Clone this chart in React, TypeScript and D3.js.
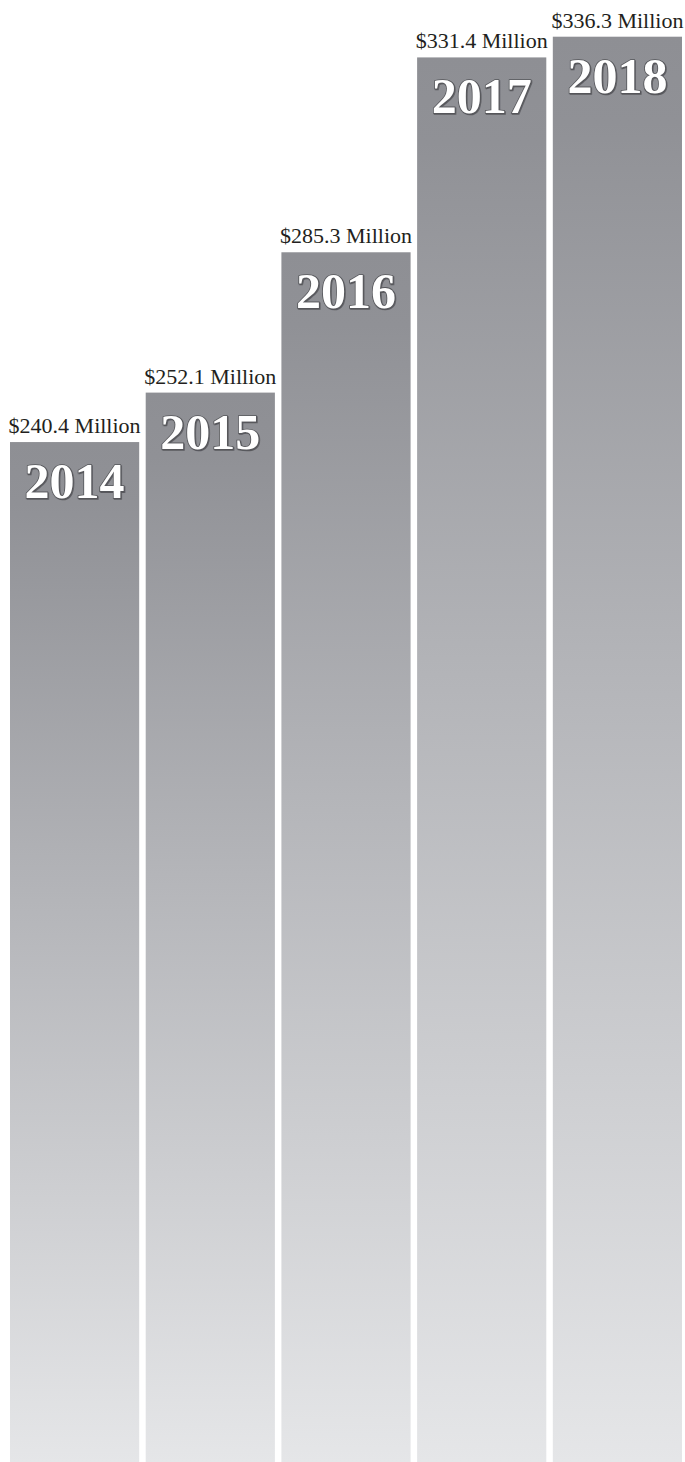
import React from "react";
import * as d3 from "d3";

const years = ["2014", "2015", "2016", "2017", "2018"];
const values = [240.4, 252.1, 285.3, 331.4, 336.3];
const valueLabels = ["$240.4 Million", "$252.1 Million", "$285.3 Million", "$331.4 Million", "$336.3 Million"];

const W = 685;
const H = 1462;

export default function App() {
  const x = d3.scaleBand<string>().domain(years).range([10, 682]).paddingInner(0.048).paddingOuter(0);
  const y = d3.scaleLinear().domain([0, 336.3]).range([1458.2, 36.7]);

  return (
    <svg
      width={W}
      height={H}
      style={{ position: "absolute", left: 0, top: 0, display: "block", background: "#ffffff" }}
    >
      <defs>
        <linearGradient id="barGrad" x1="0" y1="0" x2="0" y2="1">
          <stop offset="0" stopColor="#8e8f94" />
          <stop offset="0.06" stopColor="#909196" />
          <stop offset="0.45" stopColor="#b4b5b9" />
          <stop offset="1" stopColor="#e5e6e8" />
        </linearGradient>
        <filter id="shadow" x="-10%" y="-10%" width="120%" height="130%">
          <feDropShadow dx="0.8" dy="1" stdDeviation="0.6" floodColor="#4a4b4f" floodOpacity="0.8" />
        </filter>
      </defs>
      {years.map((yr, i) => {
        const bx = x(yr)!;
        const bw = x.bandwidth();
        const top = y(values[i]);
        const cx = bx + bw / 2;
        return (
          <g key={yr}>
            <rect x={bx} y={top} width={bw} height={H - top} fill="url(#barGrad)" />
            <text
              x={cx}
              y={top - 9}
              textAnchor="middle"
              fontFamily="'Liberation Serif', 'Times New Roman', serif"
              fontSize={22}
              fill="#231f20"
            >
              {valueLabels[i]}
            </text>
            <text
              x={cx}
              y={top + 56}
              textAnchor="middle"
              fontFamily="'Liberation Serif', 'Times New Roman', serif"
              fontWeight="bold"
              fontSize={50}
              fill="#ffffff"
              stroke="#55565a"
              strokeWidth={1.6}
              style={{ paintOrder: "stroke" }}
              filter="url(#shadow)"
            >
              {yr}
            </text>
          </g>
        );
      })}
    </svg>
  );
}
